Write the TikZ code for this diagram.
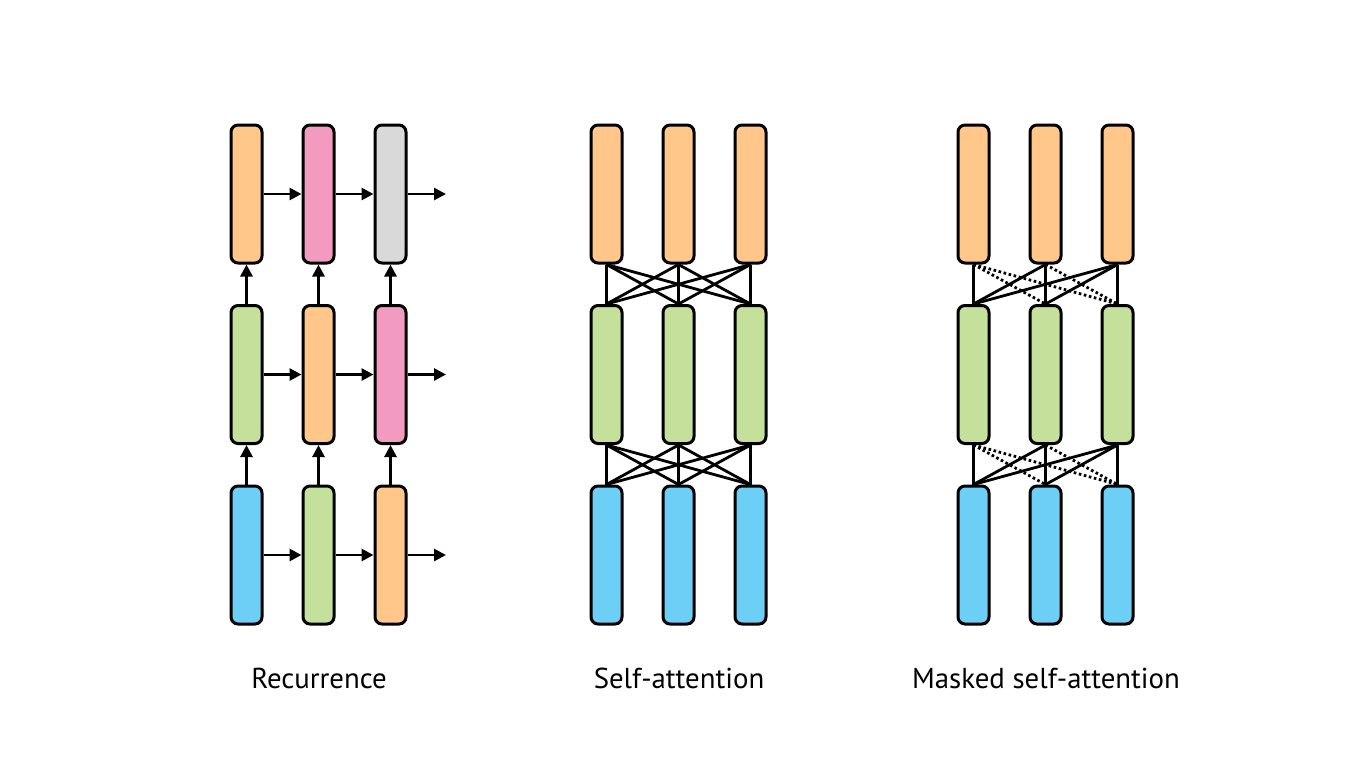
\documentclass[tikz,border=0pt]{standalone}
\usepackage{fontspec}
\setmainfont{PT Sans}
\usetikzlibrary{arrows.meta}

\definecolor{cOrange}{RGB}{255,200,138}
\definecolor{cPink}{RGB}{243,154,193}
\definecolor{cGray}{RGB}{217,217,217}
\definecolor{cGreen}{RGB}{197,224,155}
\definecolor{cBlue}{RGB}{109,207,246}

\begin{document}
\begin{tikzpicture}[x=0.5pt,y=-0.5pt,
  cell/.style={draw, line width=1.5pt, rounded corners=3.5pt, minimum width=15.5pt,
    minimum height=69pt, inner sep=0pt},
  link/.style={line width=1.4pt},
  masked/.style={line width=1.4pt, dash pattern=on 1.3pt off 1.3pt},
  flow/.style={line width=1.4pt, -{Triangle[length=6pt,width=6pt]}},
  caption/.style={font=\fontsize{14.4}{16}\selectfont}]

\useasboundingbox (0,0) rectangle (1366,768);

% Recurrence
\foreach \c/\x/\ct/\cm/\cb in {1/246.5/cOrange/cGreen/cBlue,
    2/318.5/cPink/cOrange/cGreen, 3/390.5/cGray/cPink/cOrange} {
  \node[cell, fill=\ct] (rT\c) at (\x,194) {};
  \node[cell, fill=\cm] (rM\c) at (\x,374.5) {};
  \node[cell, fill=\cb] (rB\c) at (\x,555) {};
}
\coordinate (rTout) at (446,194);
\coordinate (rMout) at (446,374.5);
\coordinate (rBout) at (446,555);

\foreach \r in {T,M,B} {
  \draw[flow] (r\r1.east) -- (r\r2.west);
  \draw[flow] (r\r2.east) -- (r\r3.west);
  \draw[flow] (r\r3.east) -- (r\r out);
}
\foreach \c in {1,2,3} {
  \draw[flow] (rB\c.north) -- (rM\c.south);
  \draw[flow] (rM\c.north) -- (rT\c.south);
}

\node[caption] (rLabel) at (319,678) {Recurrence};

% Self-attention
\foreach \c/\x in {1/606.5, 2/678.5, 3/750.5} {
  \node[cell, fill=cOrange] (sT\c) at (\x,194) {};
  \node[cell, fill=cGreen] (sM\c) at (\x,374.5) {};
  \node[cell, fill=cBlue] (sB\c) at (\x,555) {};
}
\foreach \i in {1,2,3} {
  \foreach \j in {1,2,3} {
    \draw[link] (sT\i.south) -- (sM\j.north);
    \draw[link] (sM\i.south) -- (sB\j.north);
  }
}

\node[caption] (sLabel) at (679,678) {Self-attention};

% Masked self-attention
\foreach \c/\x in {1/973.5, 2/1045.5, 3/1117.5} {
  \node[cell, fill=cOrange] (mT\c) at (\x,194) {};
  \node[cell, fill=cGreen] (mM\c) at (\x,374.5) {};
  \node[cell, fill=cBlue] (mB\c) at (\x,555) {};
}
\foreach \i in {1,2,3} {
  \foreach \j in {1,2,3} {
    \ifnum\j>\i
      \draw[masked] (mT\i.south) -- (mM\j.north);
      \draw[masked] (mM\i.south) -- (mB\j.north);
    \else
      \draw[link] (mT\i.south) -- (mM\j.north);
      \draw[link] (mM\i.south) -- (mB\j.north);
    \fi
  }
}

\node[caption] (mLabel) at (1046,678) {Masked self-attention};

\end{tikzpicture}
\end{document}
